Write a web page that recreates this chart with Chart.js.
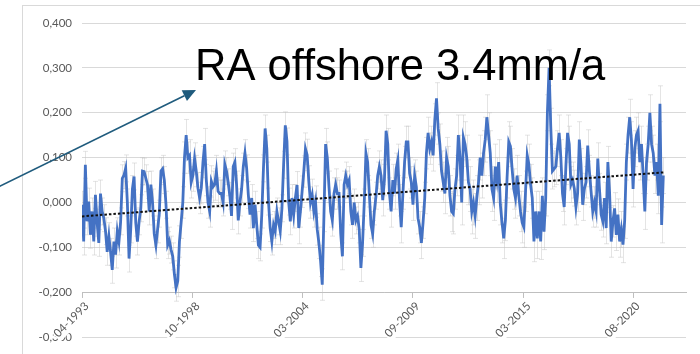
<!DOCTYPE html>
<html>
<head>
<meta charset="utf-8">
<script src="https://cdn.jsdelivr.net/npm/chart.js@4/dist/chart.umd.min.js"></script>
<style>
html,body{margin:0;padding:0;background:#fff;}
#wrap{width:700px;height:354px;position:relative;}
</style>
</head>
<body>
<div id="wrap"><canvas id="c" width="700" height="354"></canvas></div>
<script>
// ---- data ----
// x-axis: months since 04-1993 (category labels every ~66 months)
const tickLabels = ['04-1993', '10-1998', '03-2004', '09-2009', '03-2015', '08-2020'];
const tickMonths = [0, 66, 131, 197, 263, 328];

// monthly sea level anomaly (m), one value per month from 04-1993
const seaLevel = [
  -0.005,-0.087,0.084,-0.042,0.002,-0.072,-0.020,-0.087,0.017,-0.045,
  -0.090,0.020,-0.020,-0.035,-0.064,-0.110,-0.075,-0.110,-0.150,-0.087,
  -0.116,-0.064,-0.087,-0.042,0.054,0.061,0.076,0.000,-0.125,-0.060,
  0.030,0.058,-0.045,-0.087,-0.042,-0.013,0.070,0.069,0.054,0.039,
  -0.020,0.040,0.000,-0.070,-0.095,-0.060,-0.025,0.070,0.075,0.050,
  -0.005,-0.095,-0.085,-0.105,-0.120,-0.160,-0.190,-0.175,-0.087,-0.045,
  0.000,0.100,0.150,0.100,0.105,0.045,0.060,0.098,0.070,0.032,
  0.010,0.032,
  0.090,0.130,0.050,0.000,-0.020,0.047,0.035,0.040,0.070,0.025,
  0.020,0.020,0.000,0.085,0.070,0.045,0.015,-0.030,0.080,0.090,
  0.040,-0.040,0.000,0.030,0.080,0.110,0.076,0.017,-0.027,0.010,
  -0.057,-0.005,-0.050,-0.095,-0.100,-0.027,0.076,0.165,0.120,0.002,
  -0.057,-0.087,-0.050,-0.064,-0.020,-0.042,-0.064,-0.013,0.084,0.172,
  0.136,0.002,-0.042,0.010,-0.027,0.010,0.039,-0.057,-0.020,0.024,
  0.069,0.120,0.106,0.047,0.000,0.017,-0.020,0.002,-0.060,-0.090,
  -0.130,-0.183,
  -0.030,0.130,0.100,0.035,-0.020,-0.040,0.020,0.040,0.020,0.020,
  -0.070,-0.120,0.040,0.060,0.040,0.050,-0.020,-0.050,0.000,-0.040,
  -0.030,-0.060,-0.146,-0.090,0.000,0.110,0.090,0.020,-0.050,-0.070,
  -0.020,0.015,0.060,0.080,0.060,0.005,0.050,0.160,0.130,0.020,
  -0.020,0.050,0.020,0.075,0.095,0.005,-0.055,0.020,0.090,0.135,
  0.135,0.065,0.045,-0.005,0.060,0.035,-0.035,-0.055,-0.090,-0.045,
  0.010,0.110,0.155,0.120,0.135,0.105,0.185,0.232,0.165,0.130,
  0.070,0.045,0.020,
  0.100,0.080,0.015,-0.020,-0.025,0.030,0.060,0.150,0.100,0.000,
  0.145,0.130,0.100,0.045,0.030,-0.020,0.000,-0.030,0.010,0.045,
  0.100,0.060,0.110,0.140,0.190,0.150,0.110,0.030,0.010,0.080,
  0.050,0.090,-0.005,-0.045,-0.080,-0.040,0.055,0.135,0.125,0.075,
  0.030,0.010,0.060,0.015,-0.020,-0.045,-0.055,0.025,0.105,0.085,
  0.040,0.010,-0.087,-0.020,-0.080,-0.020,-0.087,0.015,-0.065,0.010,
  0.200,0.300,0.170,0.070,0.075,0.080,0.120,0.155,0.100,0.020,
  -0.010,0.080,0.155,
  0.130,0.040,0.050,0.032,-0.010,0.020,0.140,0.085,-0.005,0.030,
  0.045,0.127,0.070,0.025,-0.020,0.000,-0.020,0.098,0.030,-0.027,
  -0.042,0.010,-0.057,0.090,0.024,-0.087,-0.042,-0.013,-0.072,-0.027,
  -0.087,-0.060,-0.094,-0.040,0.090,0.150,0.190,0.140,0.030,0.120,
  0.150,0.160,0.090,0.130,0.060,-0.020,0.090,0.130,0.200,0.130,
  0.110,0.060,0.090,0.015,0.220,-0.050,0.060
];

// linear trend (dotted line) end points
const trendMonths = [0, 346];
const trendValues = [-0.031, 0.067];

// approximate error-bar half length per calendar year, 1993..2022
const errorYears = [1993,1994,1995,1996,1997,1998,1999,2000,2001,2002,2003,2004,2005,2006,2007,
                    2008,2009,2010,2011,2012,2013,2014,2015,2016,2017,2018,2019,2020,2021,2022];
const yearError = [0.030,0.030,0.030,0.030,0.030,0.035,0.035,0.030,0.030,0.030,0.030,0.035,0.035,0.030,0.030,
                   0.035,0.035,0.035,0.045,0.050,0.050,0.045,0.045,0.040,0.040,0.035,0.035,0.040,0.040,0.040];

const annotationText = 'RA offshore 3.4mm/a';

// ---- chart ----
const FONT = 'Lato, "Liberation Sans", Arial, sans-serif';

const pagePlugin = {
  id: 'page',
  beforeDraw(chart) {
    const ctx = chart.ctx;
    ctx.save();
    ctx.fillStyle = '#ffffff';
    ctx.fillRect(0, 0, chart.width, chart.height);
    ctx.strokeStyle = '#d9d9d9';
    ctx.lineWidth = 1;
    ctx.strokeRect(22.5, 5.5, 760, 420);
    ctx.restore();
  },
  beforeDatasetsDraw(chart) {
    const ctx = chart.ctx;
    const xs = chart.scales.x, ys = chart.scales.y;
    const a = chart.chartArea;
    ctx.save();
    ctx.beginPath();
    ctx.rect(a.left, a.top, a.right - a.left, a.bottom - a.top);
    ctx.clip();
    ctx.strokeStyle = 'rgba(195,195,195,0.45)';
    ctx.lineWidth = 1;
    seaLevel.forEach((v, i) => {
      const year = 1993 + Math.floor((3 + i) / 12);
      const e = yearError[errorYears.indexOf(year)];
      const x = Math.round(xs.getPixelForValue(i)) + 0.5;
      const y1 = ys.getPixelForValue(v + e);
      const y2 = ys.getPixelForValue(v - e);
      ctx.beginPath();
      ctx.moveTo(x, y1); ctx.lineTo(x, y2);
      ctx.moveTo(x - 2.5, y1); ctx.lineTo(x + 2.5, y1);
      ctx.moveTo(x - 2.5, y2); ctx.lineTo(x + 2.5, y2);
      ctx.stroke();
    });
    ctx.restore();
  },
  afterDraw(chart) {
    const ctx = chart.ctx;
    ctx.save();
    // annotation text
    ctx.fillStyle = '#000000';
    ctx.font = '43.5px "Liberation Sans", Arial, sans-serif';
    ctx.textBaseline = 'alphabetic';
    ctx.textAlign = 'left';
    ctx.fillText(annotationText, 195, 80);
    // arrow
    const x0 = -2, y0 = 187, tx = 196, ty = 90;
    const dx = tx - x0, dy = ty - y0, len = Math.hypot(dx, dy);
    const ux = dx / len, uy = dy / len;
    const hl = 13, hw = 6;
    const bx = tx - ux * hl, by = ty - uy * hl;
    ctx.strokeStyle = '#1f5b7d';
    ctx.fillStyle = '#1f5b7d';
    ctx.lineWidth = 1.6;
    ctx.beginPath();
    ctx.moveTo(x0, y0);
    ctx.lineTo(bx, by);
    ctx.stroke();
    ctx.beginPath();
    ctx.moveTo(tx, ty);
    ctx.lineTo(bx - uy * hw, by + ux * hw);
    ctx.lineTo(bx + uy * hw, by - ux * hw);
    ctx.closePath();
    ctx.fill();
    ctx.restore();
  }
};

new Chart(document.getElementById('c'), {
  type: 'line',
  data: {
    datasets: [
      {
        label: 'trend',
        data: trendMonths.map((m, i) => ({x: m, y: trendValues[i]})),
        borderColor: '#111111',
        borderWidth: 2,
        borderDash: [2.5, 2],
        pointRadius: 0,
        fill: false,
        order: 0
      },
      {
        label: 'RA offshore',
        data: seaLevel.map((v, i) => ({x: i, y: v})),
        borderColor: '#4472C4',
        borderWidth: 2.8,
        pointRadius: 0,
        tension: 0,
        fill: false,
        order: 1
      }
    ]
  },
  options: {
    responsive: false,
    animation: false,
    devicePixelRatio: 1,
    layout: {padding: {left: 22, right: 14, top: 23, bottom: 16}},
    plugins: {legend: {display: false}, tooltip: {enabled: false}},
    scales: {
      x: {
        type: 'linear',
        min: 0,
        max: 359.5,
        position: {y: -0.2},
        afterBuildTicks(scale) {
          scale.ticks = tickMonths.map(v => ({value: v}));
        },
        grid: {drawOnChartArea: false, drawTicks: true, tickLength: 5, color: '#bfbfbf'},
        border: {display: true, color: '#bfbfbf', width: 1},
        ticks: {
          autoSkip: false,
          minRotation: 45,
          maxRotation: 45,
          padding: 2,
          color: '#595959',
          font: {family: FONT, size: 11.5},
          showLabelBackdrop: true,
          backdropColor: '#ffffff',
          backdropPadding: 1,
          z: 1,
          callback: (value) => {
            const k = tickMonths.indexOf(value);
            return k >= 0 ? tickLabels[k] : '';
          }
        }
      },
      y: {
        min: -0.3,
        max: 0.4,
        afterFit(scale) { scale.width = 60; },
        grid: {color: '#d9d9d9', drawTicks: false},
        border: {display: false},
        ticks: {
          stepSize: 0.1,
          padding: 10,
          color: '#595959',
          font: {family: FONT, size: 11.5},
          callback: (v) => (Math.abs(v) < 1e-9 ? 0 : v).toFixed(3).replace('.', ',')
        }
      }
    }
  },
  plugins: [pagePlugin]
});
</script>
</body>
</html>
